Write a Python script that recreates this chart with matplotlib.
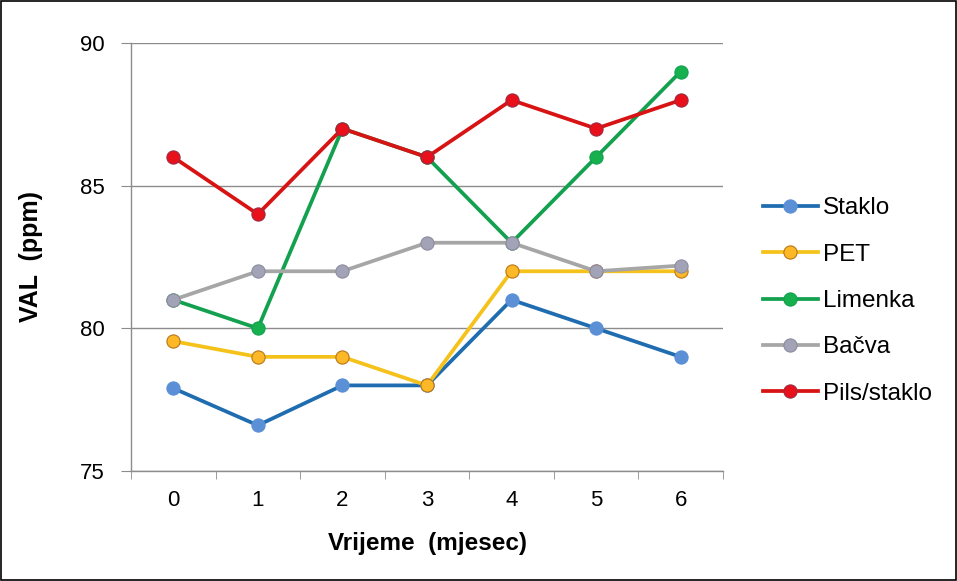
import numpy as np
import matplotlib
matplotlib.use("Agg")
from matplotlib import pyplot as plt
from matplotlib.patches import Rectangle

plt.rcParams['font.family'] = ['Liberation Sans', 'DejaVu Sans']

# months of storage
months = [0, 1, 2, 3, 4, 5, 6]
month_labels = ["0", "1", "2", "3", "4", "5", "6"]

# VAL concentration (ppm) per packaging
staklo = [77.9, 76.6, 78.0, 78.0, 81.0, 80.0, 79.0]
pet = [79.55, 79.0, 79.0, 78.0, 82.0, 82.0, 82.0]
limenka = [81.0, 80.0, 87.0, 86.0, 83.0, 86.0, 89.0]
bacva = [81.0, 82.0, 82.0, 83.0, 83.0, 82.0, 82.2]
pils_staklo = [86.0, 84.0, 87.0, 86.0, 88.0, 87.0, 88.0]

series_names = ["Staklo", "PET", "Limenka", "Bačva", "Pils/staklo"]
y_ticks = [75, 80, 85, 90]

fig = plt.figure(figsize=(9.57, 5.81), dpi=100)
fig.patches.append(Rectangle((0.001, 0.001), 0.998, 0.997, transform=fig.transFigure,
                             fill=False, edgecolor="black", linewidth=1.2))
ax = fig.add_axes([131/957, 1 - 471/581, (723 - 131)/957, (471 - 43)/581])

styles = [
    # line, marker face, marker edge
    ("#1f6db0", "#5b8fd6", "#5b8fd6"),
    ("#f5c21b", "#fdb827", "#b8761a"),
    ("#13a150", "#16b04e", "#13a150"),
    ("#a6a6a6", "#a3a3b8", "#8c8ca0"),
    ("#d81313", "#e8101a", "#9c2a40"),
]
data = [staklo, pet, limenka, bacva, pils_staklo]
for vals, name, (lc, mf, me) in zip(data, series_names, styles):
    ax.plot(months, vals, color=lc, linewidth=2.7, marker="o", markersize=9.5,
            markerfacecolor=mf, markeredgecolor=me, markeredgewidth=0.8,
            label=name, zorder=3)

ax.set_xlim(-0.5, 6.5)
ax.set_ylim(75, 90)
ax.set_yticks(y_ticks)
ax.set_xticks(months)
ax.set_xticklabels(month_labels)
ax.set_xticks(np.arange(-0.5, 7, 1), minor=True)
ax.tick_params(axis="x", which="major", length=0, pad=14, labelsize=16)
ax.tick_params(axis="x", which="minor", length=6, color="#8c8c8c", direction="out")
ax.tick_params(axis="y", length=7, color="#8c8c8c", direction="out", pad=12, labelsize=16)

ax.grid(axis="y", color="#8c8c8c", linewidth=1.0, zorder=0)
ax.set_axisbelow(True)
for side in ("top", "right"):
    ax.spines[side].set_visible(False)
for side in ("left", "bottom"):
    ax.spines[side].set_color("#8c8c8c")
    ax.spines[side].set_linewidth(1.0)

ax.set_xlabel("Vrijeme  (mjesec)", fontsize=17.5, fontweight="bold")
ax.set_ylabel("VAL  (ppm)", fontsize=18, fontweight="bold")
ax.xaxis.set_label_coords(0.5, (471 - 532) / 428)
ax.yaxis.set_label_coords((43 - 131) / 592, 0.5)

fig.legend(loc="center left", bbox_to_anchor=(763/957, 1 - 301/581), frameon=False,
           fontsize=17.5, handlelength=2.25, handletextpad=0.2, labelspacing=1.0,
           borderpad=0, borderaxespad=0)

fig.savefig("out.png", dpi=100)
